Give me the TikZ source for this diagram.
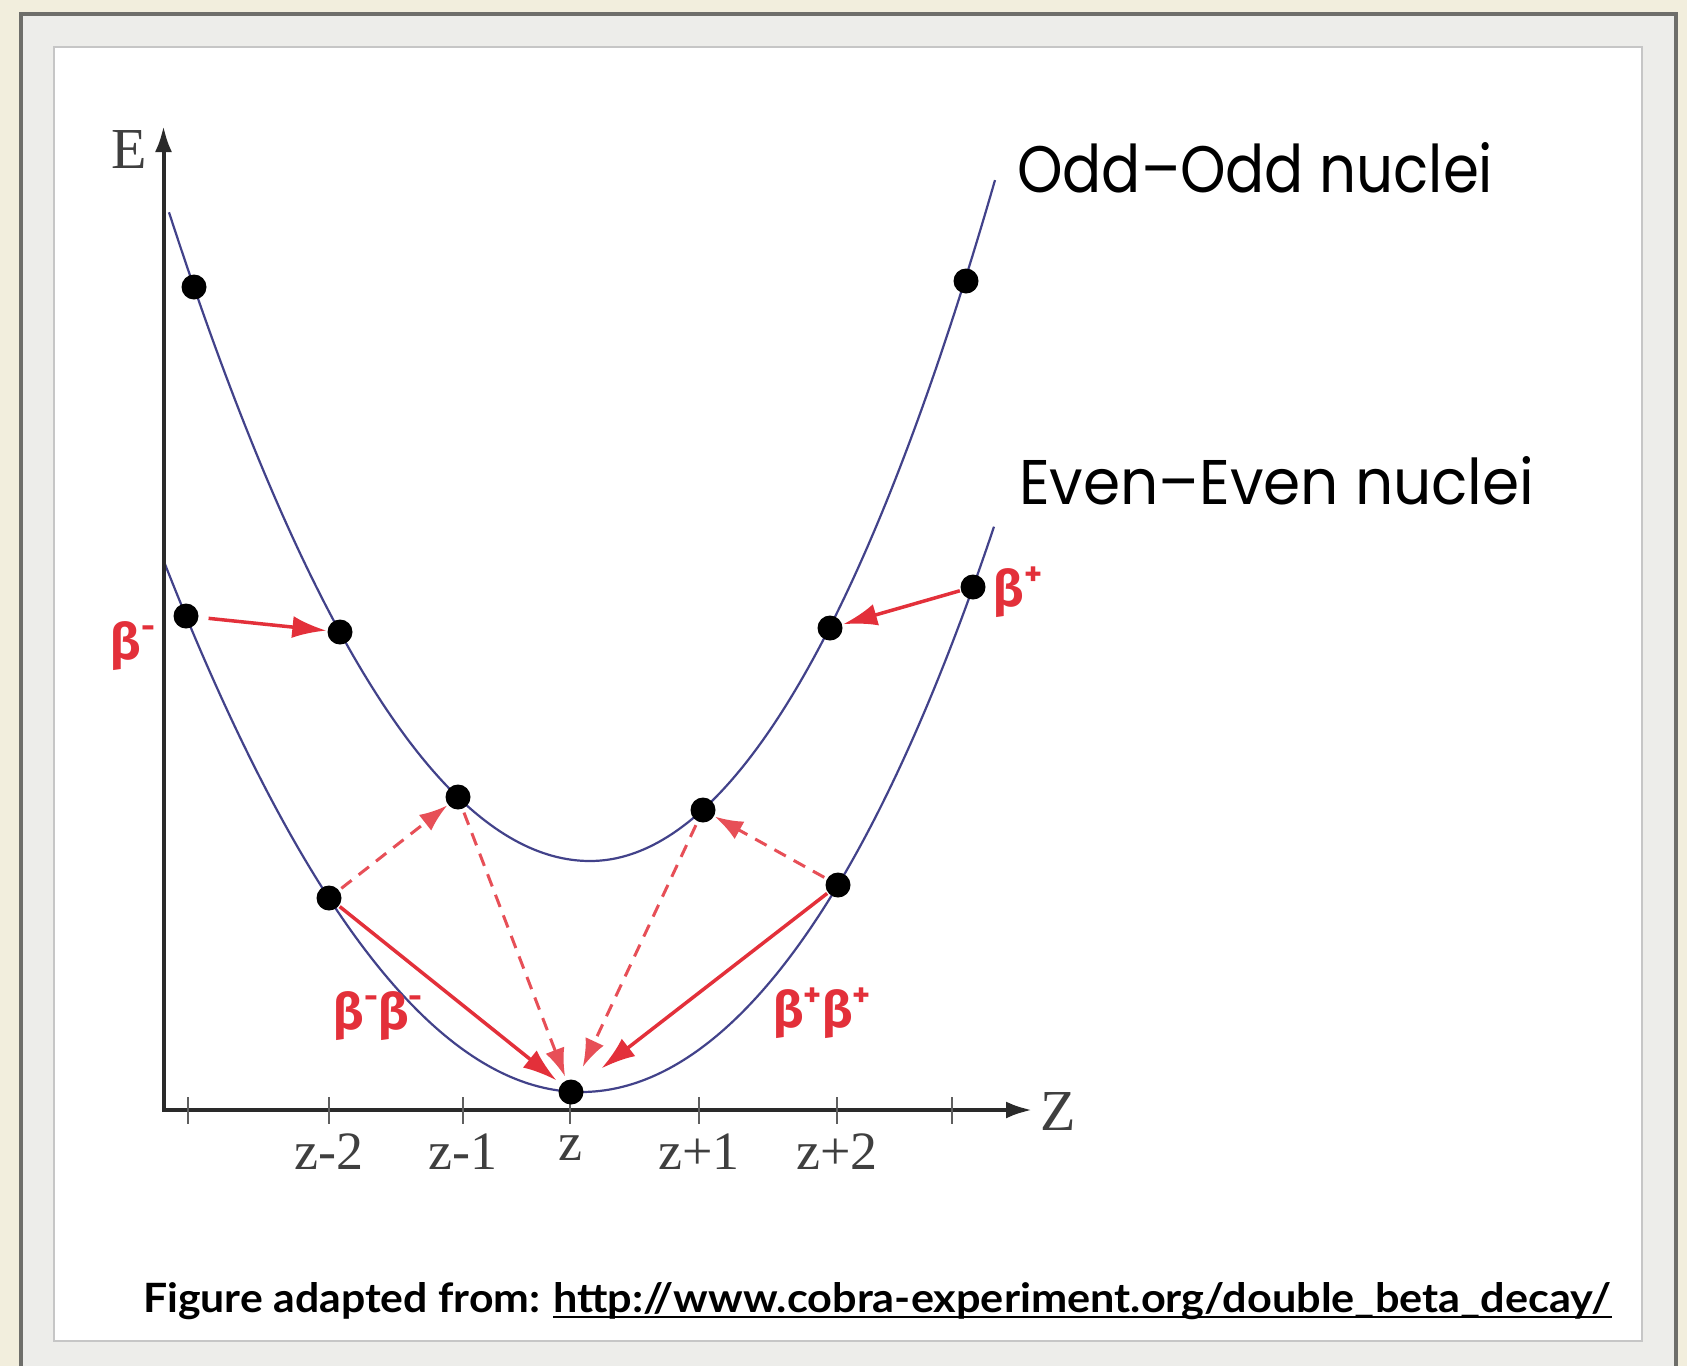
\documentclass[tikz,border=0pt]{standalone}
\usepackage{graphicx}
\usepackage{fontspec}
\setmainfont{Liberation Serif}
\newfontfamily\nucfont{Poppins}
\newfontfamily\betafont{Fira Sans}
\newfontfamily\capfont{Lato}
\usetikzlibrary{arrows.meta}
\definecolor{bgbeige}{HTML}{F2EEDD}
\definecolor{matgray}{HTML}{EDEDEA}
\definecolor{framegray}{HTML}{6E6E6A}
\definecolor{curveblue}{HTML}{42428A}
\definecolor{betared}{HTML}{E3303A}
\definecolor{axisgray}{HTML}{2A2A2A}
\newcommand\bsup[1]{\raisebox{0.42em}{\fontsize{34}{34}\selectfont #1}}
\tikzset{
  dot/.style={circle, fill=black, inner sep=0pt, minimum size=25pt},
  curve/.style={curveblue, line width=2.2pt},
  axisline/.style={axisgray, line width=4pt},
  tickmark/.style={axisgray!75, line width=2pt},
  ticklabel/.style={text=axisgray!90, font=\fontsize{54}{60}\selectfont, inner sep=0pt},
  redsolid/.style={betared, line width=3.5pt, -{Latex[length=34pt,width=22pt]}},
  reddash/.style={betared!85, line width=3pt, dash pattern=on 13pt off 9pt, -{Latex[length=28pt,width=20pt]}},
  betalabel/.style={text=betared, font=\betafont\bfseries\fontsize{50}{52}\selectfont, inner sep=0pt},
}
\begin{document}
\begin{tikzpicture}[x=1pt,y=-1pt]
\useasboundingbox (0,0) rectangle (1687,1366);
% frame
\fill[bgbeige] (0,0) rectangle (1687,1366);
\fill[matgray] (21,14) rectangle (1676,1366);
\draw[framegray, line width=4pt] (21,1366) -- (21,14) -- (1676,14) -- (1676,1366);
\draw[gray!45, line width=1.5pt, fill=white] (54,47) rectangle (1642,1341);

% curves
\draw[curve] plot[domain=169:590, samples=90] (\x, {861-36.6*((\x-590)/100)*((\x-590)/100)})
  -- plot[domain=590:995, samples=90] (\x, {861-40.2*((\x-590)/100)^2-0.08*((\x-590)/100)^4});
\draw[curve] plot[domain=163.5:581, samples=90] (\x, {1092-30.5*((\x-581)/100)*((\x-581)/100)})
  -- plot[domain=581:994, samples=90] (\x, {1092-30.2*((\x-581)/100)^2-0.1725*((\x-581)/100)^4});

% axes
\coordinate (O) at (163.5,1110);
\coordinate (Etip) at (163.5,126);
\coordinate (Ztip) at (1032,1110);
\draw[axisline, {Latex[length=26pt,width=17pt]}-{Latex[length=26pt,width=17pt]}] (Etip) -- (O) -- (Ztip);
\foreach \tx in {188,329,463,570,699,837,952} \draw[tickmark] (\tx,1097) -- (\tx,1124);
\node[ticklabel] (lzm2) at (329,1152) {z-2};
\node[ticklabel] (lzm1) at (463,1152) {z-1};
\node[ticklabel] (lz)   at (570,1148) {z};
\node[ticklabel] (lzp1) at (699,1152) {z+1};
\node[ticklabel] (lzp2) at (837,1152) {z+2};
\node[ticklabel, font=\fontsize{58}{60}\selectfont] (Elab) at (129,150) {E};
\node[ticklabel, font=\fontsize{58}{60}\selectfont] (Zlab) at (1058,1111) {Z};

% dots
\node[dot] (o1) at (194,287) {};
\node[dot] (o2) at (340,632) {};
\node[dot] (o3) at (458,797) {};
\node[dot] (o4) at (703,810) {};
\node[dot] (o5) at (830,628) {};
\node[dot] (o6) at (966,281) {};
\node[dot] (e1) at (186,616) {};
\node[dot] (e2) at (329,898) {};
\node[dot] (e3) at (571,1092) {};
\node[dot] (e4) at (838,885) {};
\node[dot] (e5) at (973,587) {};

% decays
\draw[reddash, shorten <=3pt, shorten >=1pt] (e2) -- (o3);
\draw[reddash, shorten <=3pt, shorten >=1pt] (e4) -- (o4);
\draw[reddash, shorten <=4pt, shorten >=4pt] (o3) -- (e3);
\draw[reddash, shorten <=4pt, shorten >=15pt] (o4) -- (e3);
\draw[redsolid, shorten <=10pt, shorten >=1pt] (e1) -- (o2);
\draw[redsolid, shorten <=1pt, shorten >=1pt] (e5) -- (o5);
\draw[redsolid, shorten <=1pt, shorten >=6pt] (e2) -- (e3);
\draw[redsolid, shorten <=1pt, shorten >=26pt] (e4) -- (e3);

% beta labels
\node[betalabel] (bm) at (133,646) {β\bsup{-}};
\node[betalabel] (bp) at (1018,592) {β\bsup{+}};
\node[betalabel] (bmbm) at (378,1016) {β\bsup{-}β\bsup{-}};
\node[betalabel] (bpbp) at (822,1013) {β\bsup{+}β\bsup{+}};

% nuclei labels
\node[anchor=south west, inner sep=0pt] (oddlab) at (1017,193) {\resizebox{476pt}{50pt}{\nucfont Odd–Odd nuclei}};
\node[anchor=south west, inner sep=0pt] (evenlab) at (1019,505) {\resizebox{515pt}{48pt}{\nucfont Even–Even nuclei}};

% caption
\node[anchor=base west, inner sep=0pt] (cap1) at (143,1312) {\resizebox{397pt}{30pt}{\capfont\bfseries Figure adapted from:}};
\node[anchor=base west, inner sep=0pt] (cap2) at (553,1312) {\resizebox{1058pt}{30pt}{\capfont\bfseries http://www.cobra-experiment.org/double\_beta\_decay/}};
\draw[black, line width=2.5pt] ([yshift=-5pt]cap2.base west) -- ([yshift=-5pt]cap2.base east);
\end{tikzpicture}
\end{document}
